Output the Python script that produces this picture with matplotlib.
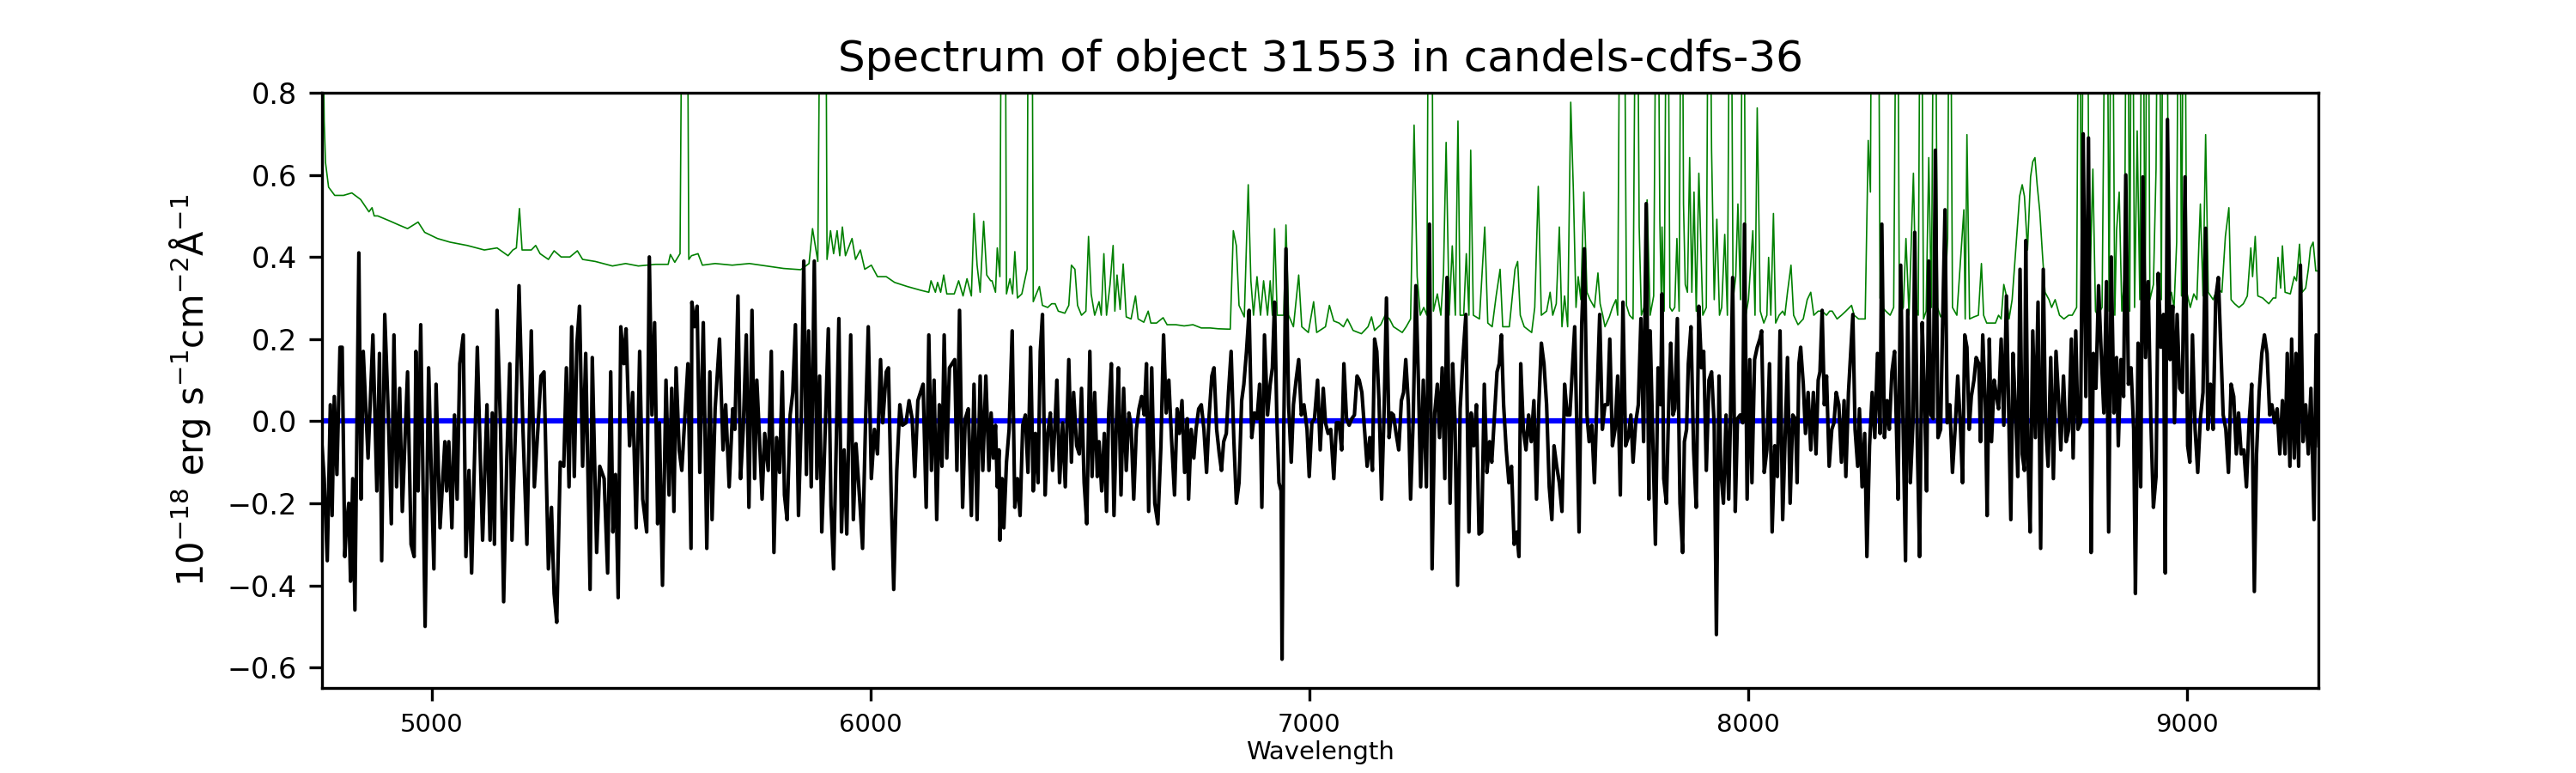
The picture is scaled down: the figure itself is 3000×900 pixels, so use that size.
import numpy as np
import matplotlib
matplotlib.use("Agg")
import matplotlib.pyplot as plt

# =========================
# Spectrum values (Angstrom, 1e-18 erg/s/cm2/A)
# =========================
flux_wave = [
    4750, 4755, 4762, 4769, 4773, 4778, 4784, 4791, 4796, 4802, 4806, 4811, 4815, 4820, 4825,
    4834, 4839, 4844, 4855, 4866, 4875, 4881, 4886, 4893, 4901, 4908, 4914, 4920, 4927, 4933,
    4945, 4953, 4960, 4964, 4969, 4975, 4985, 4993, 4999, 5005, 5010, 5019, 5030, 5034, 5039,
    5046, 5052, 5058, 5064, 5072, 5078, 5085, 5091, 5104, 5116, 5126, 5133, 5138, 5143, 5149,
    5157, 5164, 5171, 5178, 5183, 5192, 5199, 5208, 5217, 5227, 5234, 5242, 5249, 5256, 5266,
    5273, 5279, 5285, 5293, 5301, 5307, 5313, 5319, 5325, 5331, 5337, 5344, 5351, 5361, 5366,
    5376, 5383, 5393, 5401, 5408, 5413, 5419, 5425, 5431, 5438, 5443, 5451, 5458, 5466, 5474,
    5481, 5490, 5496, 5502, 5508, 5515, 5519, 5526, 5534, 5541, 5547, 5552, 5557, 5564, 5570,
    5576, 5584, 5591, 5593, 5599, 5605, 5611, 5619, 5627, 5634, 5639, 5646, 5656, 5664, 5670,
    5678, 5686, 5691, 5698, 5704, 5710, 5717, 5723, 5730, 5736, 5741, 5747, 5753, 5759, 5767,
    5774, 5780, 5786, 5793, 5799, 5804, 5810, 5817, 5823, 5829, 5836, 5842, 5848, 5854, 5859,
    5865, 5872, 5878, 5884, 5889, 5894, 5899, 5904, 5910, 5916, 5922, 5928, 5934, 5940, 5946,
    5955, 5961, 5967, 5976, 5982, 5989, 5995, 6002, 6009, 6016, 6023, 6028, 6036, 6041, 6047,
    6053, 6060, 6067, 6073, 6081, 6088, 6095, 6101, 6108, 6114, 6120, 6127, 6133, 6139, 6145,
    6151, 6157, 6163, 6168, 6174, 6180, 6186, 6192, 6197, 6203, 6210, 6216, 6223, 6230, 6236,
    6243, 6250, 6256, 6263, 6270, 6275,
    6280, 6285, 6289, 6293, 6295, 6300, 6304, 6310, 6316, 6323, 6329, 6335, 6341, 6347, 6353,
    6359, 6365, 6371, 6376, 6382, 6387, 6392, 6398, 6404, 6410, 6415, 6420, 6425, 6431, 6438,
    6444, 6452, 6458, 6463, 6470, 6476, 6481, 6487, 6493, 6500, 6505, 6511, 6517, 6521, 6527,
    6533, 6538, 6543, 6549, 6555, 6560, 6565, 6571, 6577, 6583, 6589, 6594, 6600, 6606, 6612,
    6618, 6624, 6629, 6634, 6641, 6648, 6655, 6662, 6668, 6674, 6680, 6686, 6693, 6699, 6704,
    6710, 6716, 6722, 6725, 6731, 6737, 6742, 6748, 6754, 6760, 6766, 6772, 6778, 6783, 6789,
    6795, 6800, 6805, 6811, 6816, 6822, 6828, 6834, 6840, 6846, 6851, 6857, 6863, 6869, 6875,
    6881, 6887, 6892, 6898, 6905, 6911, 6916, 6921, 6926, 6931, 6936, 6938, 6942, 6947, 6953,
    6959, 6964, 6970, 6976, 6982, 6988, 6995, 7000, 7006, 7012, 7019, 7025, 7032, 7037, 7043,
    7049, 7056, 7062, 7068, 7074, 7079, 7085, 7091, 7097, 7103, 7109, 7114, 7120, 7126, 7132,
    7138, 7144, 7149, 7154, 7159, 7165, 7171, 7176, 7182, 7187, 7192, 7198, 7204, 7210, 7215,
    7220, 7226, 7231, 7237, 7243, 7249, 7254, 7260, 7267, 7274, 7280, 7286, 7292, 7297, 7303,
    7309, 7314, 7321, 7327, 7332, 7338, 7344, 7350, 7357, 7364, 7369, 7375, 7381, 7387, 7393,
    7399, 7405, 7411, 7416, 7422, 7428, 7433, 7438, 7443, 7449, 7455, 7461, 7467, 7473, 7478,
    7482, 7488, 7494, 7500, 7506, 7512, 7518, 7523, 7529, 7535, 7541, 7547, 7553, 7558, 7564,
    7570, 7576, 7582, 7588, 7594, 7600, 7605, 7610, 7615, 7621, 7627, 7633, 7638, 7644, 7650,
    7656, 7662, 7668, 7674, 7680, 7685, 7691, 7697, 7703, 7709, 7715, 7721, 7727, 7733, 7738,
    7744, 7750, 7756, 7762, 7768, 7774, 7777, 7783, 7789, 7795, 7801,
    7804, 7808, 7814, 7820, 7824, 7829, 7833, 7839, 7845, 7851, 7855, 7860, 7864, 7870, 7876,
    7882, 7888, 7894, 7899, 7905, 7911, 7917, 7923, 7928, 7934, 7938, 7944, 7950, 7956, 7960,
    7965, 7971, 7976, 7982, 7988, 7992, 7998, 8004, 8009, 8015, 8021, 8027, 8031, 8037, 8043,
    8049, 8055, 8061, 8067, 8073, 8079, 8084, 8090, 8096, 8102, 8108, 8112, 8116, 8120, 8126,
    8131, 8137, 8143, 8149, 8155, 8160, 8164, 8169, 8174, 8179, 8185, 8191, 8196, 8201, 8207,
    8213, 8219, 8223, 8229, 8234, 8239, 8244, 8250, 8254, 8260, 8266, 8271, 8277, 8283, 8289,
    8295, 8301, 8305, 8311, 8317, 8322, 8328, 8334, 8338, 8342, 8348, 8353, 8359, 8364, 8370,
    8376, 8380, 8386, 8391, 8397, 8402, 8407, 8412, 8417, 8422, 8427, 8433, 8439, 8443, 8449,
    8454, 8460, 8466, 8472, 8478, 8484, 8489, 8494, 8499, 8504, 8509, 8515, 8520, 8526, 8530,
    8535, 8541, 8545, 8550, 8555, 8561, 8565, 8571, 8577, 8583, 8589, 8595, 8599, 8604, 8610,
    8615, 8620, 8625, 8630, 8633, 8638, 8643, 8649, 8655, 8661, 8667, 8673, 8678, 8684, 8690,
    8696, 8702, 8708, 8713, 8719, 8725, 8731, 8737, 8741, 8747, 8752, 8758, 8764, 8770, 8776,
    8782, 8787, 8793, 8799, 8805, 8811, 8817, 8822, 8828, 8834, 8840, 8844, 8850, 8856, 8861,
    8867, 8873, 8879, 8883, 8889, 8895, 8900, 8906, 8912, 8918, 8924, 8930, 8935, 8941, 8947,
    8951, 8956, 8962, 8968, 8972, 8978, 8984, 8990, 8996, 9002, 9007, 9013, 9019, 9025, 9031,
    9037, 9043, 9048, 9054, 9060, 9066, 9072, 9078, 9083, 9089, 9095, 9101, 9107, 9113, 9118,
    9124, 9130, 9136, 9142, 9148, 9154, 9159, 9165, 9171, 9177, 9183, 9189, 9194, 9200, 9206,
    9212, 9218, 9224, 9229, 9235, 9239, 9245, 9249, 9255, 9259, 9265, 9271, 9277, 9283, 9290,
    9295, 9301,
]

flux = [
    -0.06, -0.14, -0.34, 0.04, -0.23, 0.06, -0.13, 0.18, 0.18, -0.33, -0.25, -0.20, -0.39, -0.14, -0.46,
    0.41, -0.19, 0.17, -0.09, 0.21, -0.17, 0.165, -0.34, 0.26, 0.02, -0.25, 0.21, -0.16, 0.08, -0.22,
    0.12, -0.30, -0.33, 0.17, -0.17, 0.235, -0.50, 0.13, -0.12, -0.36, 0.09, -0.26, -0.05, -0.17, -0.05,
    -0.26, 0.015, -0.19, 0.14, 0.21, -0.33, -0.12, -0.37, 0.18, -0.29, 0.04, -0.29, 0.02, -0.30, 0.27,
    -0.02, -0.44, -0.10, 0.14, -0.29, 0.015, 0.33, -0.02, -0.30, 0.22, -0.16, -0.02, 0.11, 0.12, -0.36,
    -0.21, -0.42, -0.49, -0.10, -0.11, 0.13, -0.16, 0.23, -0.135, 0.19, 0.28, -0.11, 0.165, -0.41, 0.155,
    -0.32, -0.11, -0.14, -0.37, 0.12, -0.27, -0.13, -0.43, 0.23, 0.14, 0.225, -0.06, 0.07, -0.26, 0.17,
    -0.19, -0.27, 0.40, 0.015, 0.24, -0.25, -0.004, -0.40, 0.10, -0.18, 0.08, -0.22, 0.13, -0.07, -0.12,
    -0.01, 0.14, -0.31, 0.29, 0.23, 0.28, -0.125, 0.24, -0.31, 0.12, -0.24, 0.03, 0.20, -0.07, 0.04,
    -0.16, 0.03, -0.02, 0.305, -0.14, -0.02, 0.21, -0.21, 0.27, -0.14, 0.10, -0.04, -0.19, -0.03, -0.12,
    0.17, -0.32, -0.04, -0.125, 0.12, -0.18, -0.24, 0.015, 0.07, 0.235, -0.23, -0.004, 0.39, -0.13, 0.22,
    -0.16, 0.39, -0.14, 0.11, -0.27, -0.12, 0.05, 0.225, -0.205, -0.36, -0.05, 0.25, -0.27, -0.07, -0.275,
    0.21, -0.24, -0.055, -0.20, -0.31, 0.006, 0.23, -0.14, -0.02, -0.08, 0.15, -0.004, 0.12, 0.13, -0.17,
    -0.41, -0.12, 0.04, -0.01, -0.004, 0.05, 0.006, -0.135, 0.05, 0.07, 0.09, -0.21, 0.21, -0.12, 0.10,
    -0.24, 0.04, -0.11, 0.21, -0.09, 0.13, 0.14, 0.15, -0.12, 0.27, -0.21, 0.006, 0.03, -0.23, 0.09,
    -0.24, 0.11, -0.12, 0.11, -0.12, 0.02,
    -0.09, -0.01, -0.16, -0.07, -0.29, -0.14, -0.26, -0.10, -0.02, 0.22, -0.21, -0.14, -0.23, -0.01, 0.015,
    -0.125, 0.18, -0.17, -0.03, -0.15, 0.17, 0.26, -0.18, -0.03, 0.02, -0.12, -0.02, 0.10, -0.15, -0.004,
    -0.16, 0.15, -0.10, 0.07, -0.06, -0.08, 0.08, -0.15, -0.25, 0.17, -0.135, 0.07, -0.135, -0.05, -0.17,
    -0.03, -0.22, 0.02, 0.14, -0.23, -0.02, 0.13, -0.18, 0.08, -0.12, 0.02, -0.01, -0.19, -0.02, 0.03,
    0.06, 0.015, 0.14, -0.22, 0.13, -0.20, -0.25, -0.06, 0.21, 0.02, 0.10, -0.04, -0.18, 0.03, -0.03,
    0.05, -0.125, 0.006, -0.19, -0.02, -0.09, -0.02, 0.03, 0.04, -0.02, -0.125, 0.015, 0.11, 0.13, -0.02,
    -0.08, -0.12, -0.05, -0.03, 0.07, 0.17, -0.04, -0.20, -0.15, 0.05, 0.09, 0.17, 0.27, -0.04, 0.02,
    0.006, 0.09, -0.21, 0.21, 0.015, 0.09, 0.13, 0.29, 0.015, -0.15, -0.17, -0.58, -0.02, 0.42, 0.04,
    -0.10, 0.04, 0.10, 0.15, 0.015, 0.04, -0.02, -0.135, -0.004, 0.006, 0.10, -0.07, 0.08, -0.004, -0.03,
    -0.02, -0.14, -0.004, -0.004, -0.07, 0.14, 0.006, -0.01, 0.006, 0.015, 0.11, 0.10, 0.07, -0.02, -0.11,
    -0.04, -0.12, 0.20, 0.17, 0.05, -0.19, 0.04, 0.30, -0.04, 0.02, 0.015, -0.03, -0.07, 0.05, 0.07,
    0.15, 0.04, -0.19, 0.006, 0.33, 0.09, -0.16, 0.10, -0.16, 0.48, -0.36, 0.02, 0.09, -0.04, 0.13,
    -0.14, 0.35, -0.20, 0.14, 0.006, -0.40, 0.03, 0.15, 0.26, -0.27, 0.02, -0.06, 0.04, -0.275, -0.27,
    0.09, -0.125, -0.05, -0.10, 0.01, 0.12, 0.14, 0.21, 0.04, -0.07, -0.15, -0.11, -0.30, -0.27, -0.33,
    0.14, -0.02, -0.07, 0.015, -0.05, 0.05, -0.19, 0.03, 0.19, 0.14, 0.04, -0.16, -0.24, -0.06, -0.11,
    -0.15, -0.22, 0.09, 0.015, 0.015, 0.13, 0.23, -0.02, -0.27, 0.235, 0.42, 0.015, -0.05, -0.01, -0.15,
    0.06, 0.26, -0.02, 0.04, 0.04, 0.20, -0.06, -0.02, 0.11, -0.18, 0.29, -0.06, -0.04, 0.015, -0.10,
    -0.004, 0.04, 0.25, -0.05, 0.53, -0.19, 0.22, -0.04, -0.30, 0.13, 0.04,
    0.31, -0.14, -0.20, 0.07, 0.19, 0.015, 0.03, 0.25, -0.20, -0.32, -0.05, -0.02, 0.14, 0.23, -0.07,
    -0.21, 0.28, 0.13, 0.17, -0.12, 0.10, 0.12, -0.01, -0.52, 0.11, -0.12, -0.20, 0.015, -0.19, 0.006,
    0.35, -0.22, 0.006, 0.015, -0.004, 0.48, -0.19, 0.15, -0.15, 0.15, 0.18, 0.20, 0.22, -0.125, -0.07,
    0.14, -0.27, -0.06, -0.135, 0.22, -0.24, -0.06, 0.155, -0.20, 0.015, 0.006, -0.15, 0.14, 0.18, 0.09,
    -0.03, 0.07, -0.07, 0.07, -0.08, 0.10, 0.12, 0.27, 0.04, 0.11, -0.11, -0.02, -0.004, 0.07, 0.04,
    -0.10, 0.05, -0.135, 0.07, 0.165, 0.26, -0.02, -0.11, 0.03, -0.16, -0.03, -0.33, -0.06, 0.07, -0.04,
    0.165, -0.03, 0.48, -0.04, 0.05, -0.02, 0.12, 0.17, -0.004, -0.19, 0.38, 0.02, -0.34, 0.27, -0.15,
    -0.004, 0.46, -0.06, -0.33, 0.24, 0.07, -0.17, 0.39, 0.015, 0.006, 0.66, -0.04, -0.02, 0.21, 0.515,
    -0.004, 0.04, -0.125, -0.02, 0.11, -0.01, -0.15, 0.21, 0.18, -0.02, 0.06, 0.10, 0.155, 0.14, -0.05,
    0.21, 0.04, -0.23, 0.20, -0.05, 0.10, 0.07, 0.03, 0.20, -0.01, 0.305, -0.02, -0.24, 0.165, 0.015,
    -0.135, 0.37, -0.08, -0.12, 0.44, -0.08, -0.27, 0.22, -0.04, 0.29, -0.31, 0.37, -0.004, -0.11, 0.155,
    -0.14, 0.17, 0.05, -0.07, 0.11, -0.05, -0.02, 0.20, -0.09, 0.22, -0.02, -0.004, 0.70, 0.06, 0.69,
    -0.32, 0.165, 0.08, 0.33, 0.165, 0.02, 0.34, -0.27, 0.40, 0.02, 0.155, -0.06, 0.15, 0.06, 0.60,
    0.09, 0.13, -0.02, -0.42, 0.19, -0.16, 0.595, 0.155, 0.34, 0.006, -0.21, -0.135, 0.36, 0.18, 0.26,
    -0.37, 0.735, 0.15, 0.28, -0.004, 0.26, 0.08, 0.07, 0.595, -0.06, -0.10, 0.21, -0.02, -0.125, 0.006,
    0.07, 0.47, -0.02, 0.09, -0.02, 0.30, 0.35, 0.165, 0.015, -0.02, -0.125, 0.09, 0.06, -0.08, 0.02,
    -0.08, -0.07, -0.16, -0.004, 0.09, -0.415, -0.08, 0.07, 0.165, 0.21, 0.165, 0.015, 0.04, -0.004, 0.03,
    -0.08, 0.05, -0.08, 0.165, -0.11, 0.20, -0.09, 0.165, -0.11, 0.38, -0.05, 0.04, -0.08, 0.08, -0.24,
    0.21, -0.06,
]

# noise / sky spectrum; sky-line peaks above the plot top are given as 1.5
noise_wave = [
    4750, 4755, 4758, 4765, 4779, 4799, 4818, 4838, 4857, 4864, 4869, 4877, 4906, 4925, 4945,
    4969, 4984, 5013, 5042, 5081, 5120, 5149, 5174, 5185, 5193, 5200, 5206, 5227, 5237, 5247,
    5266, 5279, 5295, 5315, 5332, 5344, 5373, 5412, 5442, 5471, 5510, 5539, 5544, 5554, 5566,
    5573, 5581, 5586, 5592, 5607, 5617, 5646, 5685, 5724, 5763, 5802, 5841, 5860, 5868, 5880,
    5888, 5897, 5901, 5909, 5916, 5924, 5930, 5936, 5943, 5958, 5966, 5977, 5987, 6002, 6016,
    6036, 6055, 6084, 6114, 6133, 6138, 6148, 6153, 6160, 6167, 6174, 6191, 6201, 6211, 6220,
    6230, 6236, 6243, 6250, 6258, 6265, 6274,
    6277, 6285, 6289, 6295, 6300, 6306, 6310, 6318, 6324, 6329, 6335, 6345, 6357, 6361, 6367,
    6371, 6378, 6385, 6392, 6404, 6413, 6421, 6428, 6443, 6452, 6458, 6466, 6472, 6481, 6491,
    6497, 6503, 6511, 6521, 6526, 6532, 6538, 6546, 6553, 6557, 6562, 6569, 6576, 6583, 6594,
    6604, 6610, 6623, 6633, 6639, 6652, 6667, 6676, 6696, 6715, 6735, 6754, 6774, 6793, 6820,
    6827, 6834, 6840, 6852, 6861, 6867, 6873, 6881, 6889, 6896, 6905, 6911, 6916, 6921, 6927,
    6942, 6947, 6953, 6964, 6976, 6983, 6998, 7010, 7017, 7037, 7046, 7056, 7068, 7078, 7087,
    7100, 7119, 7134, 7142, 7149, 7163, 7173, 7183, 7192, 7212, 7221, 7231, 7239, 7246, 7253,
    7261, 7268, 7273, 7278, 7283, 7292, 7300, 7306, 7312, 7319, 7326, 7333, 7339, 7344, 7352,
    7358, 7364, 7368, 7374, 7388, 7400, 7407, 7417, 7426, 7435, 7441, 7456, 7463, 7469, 7475,
    7481, 7490, 7507, 7514, 7522, 7529, 7541, 7549, 7555, 7563, 7570, 7576, 7582, 7589, 7596,
    7602, 7608, 7613, 7619, 7626, 7633, 7640, 7650, 7658, 7663, 7669, 7674, 7684, 7691, 7699,
    7703, 7710, 7716, 7723, 7730, 7738, 7746, 7752, 7757, 7763, 7770, 7777, 7785, 7793, 7799,
    7803,
    7804, 7809, 7816, 7822, 7827, 7833, 7838, 7843, 7849, 7853, 7857, 7862, 7867, 7872, 7877,
    7882, 7888, 7897, 7905, 7911, 7917, 7923, 7929, 7935, 7940, 7947, 7953, 7960, 7966, 7972,
    7977, 7983, 7989, 7995, 8001, 8011, 8016, 8021, 8028, 8036, 8043, 8047, 8052, 8058, 8063,
    8071, 8079, 8084, 8090, 8098, 8104, 8114, 8126, 8135, 8143, 8150, 8160, 8169, 8179, 8186,
    8192, 8203, 8213, 8223, 8236, 8242, 8252, 8267, 8274, 8279, 8283, 8296, 8301, 8307, 8314,
    8324, 8332, 8340, 8345, 8354, 8360, 8367, 8377, 8383, 8388, 8394, 8400, 8406, 8412, 8418,
    8425, 8432, 8439, 8447, 8455, 8460, 8466, 8476, 8492, 8495, 8499, 8505, 8515, 8525, 8532,
    8537, 8544, 8564, 8571, 8577, 8583, 8589, 8595, 8602, 8612, 8619, 8625, 8630, 8637, 8644,
    8649, 8654, 8659, 8665, 8671, 8677, 8686, 8692, 8700, 8710, 8720, 8731, 8739, 8749, 8755,
    8760, 8766, 8772, 8778, 8786, 8792, 8797, 8807, 8817, 8823, 8829, 8836, 8840, 8846, 8852,
    8858, 8864, 8870, 8875, 8881, 8887, 8893, 8899, 8905, 8911, 8916, 8924, 8930, 8936, 8942,
    8947, 8953, 8959, 8965, 8971, 8977, 8983, 8988, 8994, 9000, 9008, 9016, 9023, 9031, 9037,
    9043, 9049, 9060, 9070, 9080, 9088, 9096, 9101, 9109, 9119, 9129, 9138, 9146, 9150, 9156,
    9162, 9173, 9187, 9197, 9203, 9208, 9214, 9218, 9224, 9236, 9245, 9250, 9257, 9263, 9271,
    9277, 9282, 9288, 9294, 9300,
]

noise = [
    1.2, 0.73, 0.63, 0.57, 0.55, 0.55, 0.556, 0.54, 0.51, 0.52, 0.50, 0.50, 0.487, 0.478, 0.469,
    0.485, 0.46, 0.445, 0.436, 0.428, 0.417, 0.422, 0.403, 0.417, 0.422, 0.518, 0.417, 0.417, 0.428, 0.408,
    0.394, 0.415, 0.40, 0.40, 0.415, 0.394, 0.389, 0.378, 0.384, 0.378, 0.382, 0.382, 0.406, 0.387, 0.408,
    1.5, 1.5, 0.394, 0.403, 0.408, 0.38, 0.384, 0.38, 0.384, 0.378, 0.372, 0.369, 0.384, 0.469, 0.389,
    1.5, 1.5, 0.394, 0.464, 0.408, 0.464, 0.403, 0.473, 0.403, 0.445, 0.394, 0.417, 0.37, 0.38, 0.352,
    0.352, 0.338, 0.328, 0.319, 0.314, 0.342, 0.314, 0.338, 0.314, 0.356, 0.31, 0.31, 0.342, 0.305, 0.347,
    0.305, 0.506, 0.38, 0.314, 0.487, 0.356, 0.342,
    0.342, 0.314, 0.422, 0.352, 1.5, 1.5, 0.31, 0.347, 0.31, 0.413, 0.30, 0.31, 0.37, 1.5, 1.5,
    0.291, 0.31, 0.328, 0.282, 0.277, 0.286, 0.286, 0.268, 0.263, 0.282, 0.38, 0.37, 0.282, 0.258, 0.268,
    0.45, 0.31, 0.258, 0.291, 0.258, 0.408, 0.258, 0.333, 0.428, 0.268, 0.356, 0.272, 0.383, 0.254, 0.249,
    0.305, 0.249, 0.241, 0.268, 0.239, 0.239, 0.252, 0.235, 0.235, 0.232, 0.235, 0.227, 0.227, 0.225, 0.224,
    0.464, 0.427, 0.282, 0.254, 0.576, 0.342, 0.258, 0.352, 0.258, 0.342, 0.258, 0.342, 0.258, 0.469, 0.258,
    0.258, 0.478, 0.258, 0.23, 0.356, 0.23, 0.216, 0.291, 0.216, 0.23, 0.282, 0.244, 0.239, 0.23, 0.249,
    0.221, 0.213, 0.23, 0.254, 0.221, 0.235, 0.258, 0.249, 0.23, 0.216, 0.23, 0.249, 0.721, 0.352, 0.258,
    0.277, 0.258, 1.5, 1.5, 0.268, 0.31, 0.258, 0.361, 0.679, 0.258, 0.427, 0.258, 0.731, 0.258, 0.258,
    0.408, 0.258, 0.66, 0.258, 0.249, 0.473, 0.239, 0.23, 0.305, 0.37, 0.23, 0.23, 0.305, 0.37, 0.389,
    0.258, 0.23, 0.216, 0.277, 0.572, 0.258, 0.268, 0.314, 0.258, 0.286, 0.473, 0.23, 0.305, 0.23, 0.777,
    0.562, 0.277, 0.352, 0.296, 0.558, 0.314, 0.296, 0.277, 0.361, 0.286, 0.258, 0.23, 0.254, 0.277, 0.296,
    0.258, 1.5, 1.5, 0.282, 0.258, 0.249, 1.5, 0.473, 0.258, 0.277, 0.539, 0.258, 0.305, 1.5, 0.492,
    0.258,
    0.473, 0.268, 1.5, 0.277, 0.268, 0.277, 0.445, 0.268, 1.5, 0.529, 0.333, 0.314, 0.642, 0.314, 0.558,
    0.268, 0.604, 0.258, 0.277, 1.5, 0.66, 0.296, 0.492, 0.258, 0.277, 0.455, 0.258, 1.5, 0.296, 0.352,
    0.529, 0.296, 1.5, 0.258, 0.296, 0.464, 0.258, 0.763, 0.268, 0.239, 0.258, 0.399, 0.258, 0.506, 0.239,
    0.258, 0.268, 0.258, 0.314, 0.38, 0.258, 0.235, 0.249, 0.296, 0.314, 0.258, 0.268, 0.268, 0.258, 0.268,
    0.268, 0.249, 0.258, 0.268, 0.282, 0.258, 0.249, 0.249, 0.684, 0.558, 1.5, 1.5, 0.30, 0.277, 0.268,
    0.258, 0.277, 1.5, 0.258, 0.277, 0.445, 0.258, 0.604, 0.277, 0.258, 1.5, 0.249, 0.268, 0.642, 0.277,
    1.5, 0.277, 0.254, 0.268, 0.445, 1.5, 0.277, 0.258, 0.515, 0.249, 0.698, 0.249, 0.254, 0.258, 0.384,
    0.258, 0.239, 0.239, 0.258, 0.249, 0.333, 0.305, 0.249, 0.296, 0.445, 0.548, 0.576, 0.548, 0.417, 0.595,
    0.632, 0.642, 0.576, 0.511, 0.408, 0.314, 0.296, 0.277, 0.296, 0.258, 0.249, 0.258, 0.258, 0.277, 1.5,
    0.277, 1.5, 1.5, 0.277, 0.614, 0.268, 0.258, 0.277, 1.5, 0.268, 1.5, 0.258, 0.464, 0.558, 0.268,
    0.352, 1.5, 0.268, 1.5, 0.277, 0.707, 0.296, 1.5, 0.258, 1.5, 0.296, 0.333, 0.614, 1.5, 0.296,
    1.5, 1.5, 0.296, 0.314, 0.277, 0.436, 1.5, 0.305, 1.5, 0.314, 0.277, 0.31, 0.296, 0.529, 0.305,
    0.698, 0.314, 0.296, 0.324, 0.314, 0.45, 0.52, 0.296, 0.286, 0.277, 0.286, 0.305, 0.422, 0.352, 0.45,
    0.305, 0.30, 0.286, 0.30, 0.30, 0.399, 0.324, 0.427, 0.314, 0.31, 0.352, 0.342, 0.431, 0.314, 0.324,
    0.37, 0.422, 0.436, 0.366, 0.366,
]

title = "Spectrum of object 31553 in candels-cdfs-36"

# =========================
# Plot
# =========================
fig = plt.figure(figsize=(10, 3), dpi=300)
ax = fig.add_subplot(111)

ax.plot(noise_wave, noise, color="g", linewidth=0.4)
ax.axhline(0.0, color="b", linewidth=1.5)
ax.plot(flux_wave, flux, color="k", linewidth=1.0)

ax.set_xlim(4750, 9300)
ax.set_ylim(-0.65, 0.8)
ax.set_title(title, fontsize=12)
ax.set_xlabel("Wavelength", fontsize=7, labelpad=1)
ax.set_ylabel("$10^{-18}$ erg s$^{-1}$cm$^{-2}$Å$^{-1}$", fontsize=10)
ax.tick_params(axis="y", labelsize=8)
ax.tick_params(axis="x", labelsize=7)

fig.savefig("out.png", dpi=300)
